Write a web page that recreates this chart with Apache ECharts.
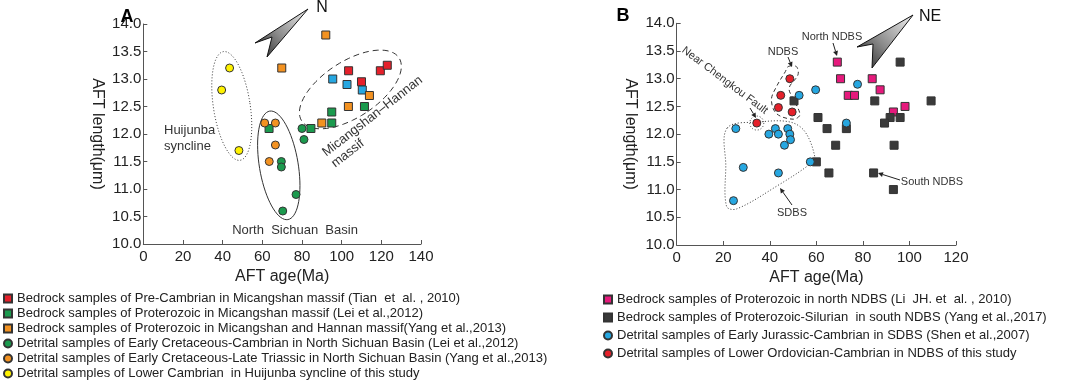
<!DOCTYPE html>
<html>
<head>
<meta charset="utf-8">
<script src="https://cdn.jsdelivr.net/npm/echarts@6/dist/echarts.min.js"></script>
<style>
  html, body { margin: 0; padding: 0; background: #fff; }
  #chart { width: 1065px; height: 386px; }
</style>
</head>
<body>
<div id="chart"></div>
<script>
// panel A: [AFT age (Ma), AFT length (um)]
const aPreCambrianTian = [[103.5, 13.15], [110, 12.95], [119.5, 13.15], [123, 13.25]];
const aBlueSquares = [[95.5, 13.0], [102.7, 12.9], [110.4, 12.8]];
const aProterozoicLei = [[63.4, 12.1], [84.5, 12.1], [95, 12.4], [95, 12.2], [111.5, 12.5]];
const aProterozoicYang = [[92, 13.8], [69.8, 13.2], [103.4, 12.5], [114, 12.7], [90, 12.2]];
const aDetritalLei = [[80, 12.1], [81, 11.9], [69.6, 11.5], [69.6, 11.4], [77, 10.9], [70.3, 10.6]];
const aDetritalYang = [[61.2, 12.2], [66.6, 12.2], [66.6, 11.8], [63.5, 11.5]];
const aHuijunba = [[43.5, 13.2], [39.5, 12.8], [48.2, 11.7]];

// panel B
const bNorthLi = [[69, 13.3], [70.4, 13.0], [73.7, 12.7], [76.4, 12.7], [84, 13.0], [87.4, 12.8], [93.1, 12.4], [98.1, 12.5]];
const bSouthYang = [[50.4, 12.6], [60.7, 12.3], [64.6, 12.1], [72.9, 12.1], [68.3, 11.8], [60, 11.5], [65.4, 11.3],
  [85.1, 12.6], [84.6, 11.3], [96, 13.3], [91.7, 12.3], [96, 12.3], [89.3, 12.2], [93.4, 11.8], [93.1, 11.0], [109.3, 12.6]];
const bSdbsShen = [[25.4, 12.1], [39.6, 12.0], [42.4, 12.1], [43.7, 12.0], [47.7, 12.1], [48.6, 12.0], [48.9, 11.9],
  [46.3, 11.8], [28.6, 11.4], [43.7, 11.3], [57.4, 11.5], [24.4, 10.8], [52.6, 12.7], [59.7, 12.8], [77.7, 12.9], [72.9, 12.2]];
const bNdbsThis = [[48.6, 13.0], [44.7, 12.7], [43.7, 12.48], [49.6, 12.4], [34.4, 12.2]];

const legendA = [
  "Bedrock samples of Pre-Cambrian in Micangshan massif (Tian  et  al. , 2010)",
  "Bedrock samples of Proterozoic in Micangshan massif (Lei et al.,2012)",
  "Bedrock samples of Proterozoic in Micangshan and Hannan massif(Yang et al.,2013)",
  "Detrital samples of Early Cretaceous-Cambrian in North Sichuan Basin (Lei et al.,2012)",
  "Detrital samples of Early Cretaceous-Late Triassic in North Sichuan Basin (Yang et al.,2013)",
  "Detrital samples of Lower Cambrian  in Huijunba syncline of this study",
];
const legendB = [
  "Bedrock samples of Proterozoic in north NDBS (Li  JH. et  al. , 2010)",
  "Bedrock samples of Proterozoic-Silurian  in south NDBS (Yang et al.,2017)",
  "Detrital samples of Early Jurassic-Cambrian in SDBS (Shen et al.,2007)",
  "Detrital samples of Lower Ordovician-Cambrian in NDBS of this study",
];

// outlines drawn around groups (data coords)
const ndbsOutline = [[47.9, 13.22], [51.4, 13.22], [52.1, 13.07], [48.3, 12.83], [50.3, 12.62], [52.9, 12.35],
  [50, 12.27], [42.9, 12.37], [40.7, 12.62], [42.9, 12.86], [46.7, 13.13]];
const sdbsOutline = [[21.7, 12.11], [35.7, 12.22], [48.6, 12.22], [55, 12.05], [59.3, 11.6], [57.9, 11.48],
  [42.9, 11.06], [25.7, 10.65], [21.4, 10.7], [21.1, 11.42]];

const FONT = "Arial, 'Liberation Sans', sans-serif";
const chart = echarts.init(document.getElementById("chart"));

function xAxisOf(i, max) {
  return {
    type: "value", gridIndex: i, min: 0, max: max, interval: 20,
    axisLine: { lineStyle: { color: "#555" } },
    axisTick: { inside: true, length: 4, lineStyle: { color: "#555" } },
    splitLine: { show: false },
    axisLabel: { fontSize: 15, color: "#222", margin: 5, fontFamily: FONT },
    name: "AFT age(Ma)", nameLocation: "middle", nameGap: 20,
    nameTextStyle: { fontSize: 16, color: "#222", fontFamily: FONT },
  };
}
function yAxisOf(i) {
  return {
    type: "value", gridIndex: i, min: 10, max: 14, interval: 0.5,
    axisLine: { lineStyle: { color: "#555" } },
    axisTick: { inside: true, length: 4, lineStyle: { color: "#555" } },
    splitLine: { show: false },
    axisLabel: { fontSize: 15, color: "#222", margin: 2, fontFamily: FONT, formatter: (v) => v.toFixed(1) },
    name: "AFT length(μm)", nameLocation: "middle", nameGap: 38, nameRotate: -90,
    nameTextStyle: { fontSize: 16, color: "#222", fontFamily: FONT },
  };
}
function dots(name, data, i, symbol, color) {
  return {
    name: name, type: "scatter", xAxisIndex: i, yAxisIndex: i, data: data,
    symbol: symbol, symbolSize: 8, z: 5,
    itemStyle: { color: color, borderColor: "#333", borderWidth: 1, opacity: 1 },
  };
}
// rotated ellipse around a data point, radii in px, phi = tilt of major axis from vertical
function ellipse(i, c, a, b, phiDeg, dash) {
  return {
    type: "custom", xAxisIndex: i, yAxisIndex: i, silent: true, z: 2, data: [c],
    renderItem: function (params, api) {
      const p = api.coord([api.value(0), api.value(1)]);
      const phi = (phiDeg * Math.PI) / 180;
      const pts = [];
      for (let k = 0; k < 72; k++) {
        const t = (k / 72) * Math.PI * 2;
        const lx = b * Math.cos(t), ly = a * Math.sin(t);
        pts.push([p[0] + lx * Math.cos(phi) - ly * Math.sin(phi), p[1] + lx * Math.sin(phi) + ly * Math.cos(phi)]);
      }
      return { type: "polygon", shape: { points: pts }, style: { fill: "none", stroke: "#333", lineWidth: 1, lineDash: dash } };
    },
  };
}
function outline(i, pts, dash) {
  return {
    type: "custom", xAxisIndex: i, yAxisIndex: i, silent: true, z: 2, data: [pts[0]],
    renderItem: function (params, api) {
      return {
        type: "polygon", shape: { points: pts.map((q) => api.coord(q)), smooth: 0.35 },
        style: { fill: "none", stroke: "#333", lineWidth: 1, lineDash: dash },
      };
    },
  };
}
function label(text, x, y, size, opts) {
  return Object.assign({
    type: "text", x: x, y: y, z: 10,
    style: Object.assign({ text: text, fontSize: size, fill: "#333", fontFamily: FONT, align: "center", verticalAlign: "middle" }, (opts && opts.style) || {}),
  }, opts && opts.rotation !== undefined ? { rotation: opts.rotation } : {});
}
function pointer(x1, y1, x2, y2) {
  const ang = Math.atan2(y2 - y1, x2 - x1), h = 5, w = 2.5;
  const bx = x2 - h * Math.cos(ang), by = y2 - h * Math.sin(ang);
  return [
    { type: "line", z: 10, shape: { x1: x1, y1: y1, x2: bx, y2: by }, style: { stroke: "#222", lineWidth: 1 } },
    { type: "polygon", z: 10, shape: { points: [[x2, y2], [bx - w * Math.sin(ang), by + w * Math.cos(ang)], [bx + w * Math.sin(ang), by - w * Math.cos(ang)]] }, style: { fill: "#222" } },
  ];
}
function compass(tip, wing, notch, foot) {
  return {
    type: "polygon", z: 10, shape: { points: [tip, wing, notch, foot] },
    style: {
      fill: new echarts.graphic.LinearGradient(1, 0, 0, 1, [
        { offset: 0, color: "#f2f2f2" }, { offset: 0.55, color: "#8a8a8a" }, { offset: 1, color: "#1e1e1e" },
      ]),
      stroke: "#111", lineWidth: 1,
    },
  };
}

const graphics = [
  label("A", 127, 17, 18, { style: { fontWeight: "bold", fill: "#000" } }),
  label("B", 623, 16, 18, { style: { fontWeight: "bold", fill: "#000" } }),
  compass([308, 9], [255, 43], [272, 37], [267, 57]),
  label("N", 322, 8, 16, { style: { fill: "#111" } }),
  compass([913, 15], [857, 47], [873, 44], [872, 68]),
  label("NE", 930, 17, 16, { style: { fill: "#111" } }),
  label("Huijunba", 164, 130, 13, { style: { align: "left" } }),
  label("syncline", 164, 146, 13, { style: { align: "left" } }),
  label("North  Sichuan  Basin", 295, 230, 13),
  label("Micangshan–Hannan", 324, 154, 13, { rotation: 0.66, style: { align: "left" } }),
  label("massif", 333, 165, 13, { rotation: 0.66, style: { align: "left" } }),
  label("NDBS", 783, 52, 11),
  label("North NDBS", 832, 37, 11),
  label("Near Chengkou Fault", 683, 49, 11, { rotation: -0.645, style: { align: "left" } }),
  label("SDBS", 792, 213, 11),
  label("South NDBS", 932, 182, 11),
].concat(
  pointer(788, 57, 792, 67),
  pointer(833, 43, 837, 56),
  pointer(750, 108, 756, 118),
  pointer(792, 205, 780, 188),
  pointer(900, 180, 878, 173)
);

chart.setOption({
  animation: false,
  textStyle: { fontFamily: FONT },
  grid: [
    { left: 143.3, top: 24, width: 277.7, height: 220 },
    { left: 676.7, top: 23.3, width: 279.3, height: 221.7 },
  ],
  xAxis: [xAxisOf(0, 140), xAxisOf(1, 120)],
  yAxis: [yAxisOf(0), yAxisOf(1)],
  legend: [
    {
      data: legendA, orient: "vertical", left: 3, top: 292, padding: 0,
      itemWidth: 8, itemHeight: 8, itemGap: 2,
      textStyle: { fontSize: 13, color: "#222", fontFamily: FONT },
    },
    {
      data: legendB, orient: "vertical", left: 603, top: 293, padding: 0,
      itemWidth: 8, itemHeight: 8, itemGap: 5,
      textStyle: { fontSize: 13, color: "#222", fontFamily: FONT },
    },
  ],
  series: [
    ellipse(0, [44.6, 12.51], 55, 18.4, -8.7, [1, 2]),
    ellipse(0, [68.3, 11.43], 55, 19.4, -9.5, null),
    ellipse(0, [104.4, 12.81], 58, 28, 57, [6, 4]),
    outline(1, ndbsOutline, [4, 3]),
    ellipse(1, [34.4, 12.2], 7, 7, 0, [1, 2]),
    outline(1, sdbsOutline, [1, 2]),
    dots(legendA[0], aPreCambrianTian, 0, "rect", "#e5202a"),
    dots("blue squares", aBlueSquares, 0, "rect", "#26a7e1"),
    dots(legendA[1], aProterozoicLei, 0, "rect", "#1b9a4e"),
    dots(legendA[2], aProterozoicYang, 0, "rect", "#f39221"),
    dots(legendA[3], aDetritalLei, 0, "circle", "#1b9a4e"),
    dots(legendA[4], aDetritalYang, 0, "circle", "#f39221"),
    dots(legendA[5], aHuijunba, 0, "circle", "#fff200"),
    dots(legendB[0], bNorthLi, 1, "rect", "#e6197c"),
    dots(legendB[1], bSouthYang, 1, "rect", "#3a3a3a"),
    dots(legendB[2], bSdbsShen, 1, "circle", "#26a7e1"),
    dots(legendB[3], bNdbsThis, 1, "circle", "#e5202a"),
  ],
  graphic: graphics,
});
</script>
</body>
</html>
